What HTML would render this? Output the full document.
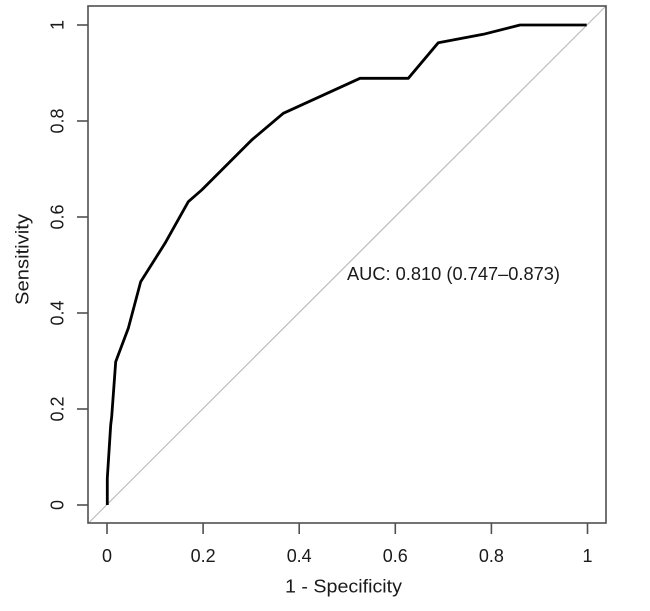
<!DOCTYPE html>
<html><head><meta charset="utf-8"><style>
html,body{margin:0;padding:0;background:#fff;}
svg{display:block;}
text{font-family:"Liberation Sans",Arial,sans-serif;fill:#1a1a1a;font-size:18px;}
</style></head><body>
<svg width="650" height="611" viewBox="0 0 650 611" xmlns="http://www.w3.org/2000/svg">
<rect x="0" y="0" width="650" height="611" fill="#fff"/>
<!-- diagonal -->
<line x1="88" y1="523.5" x2="606" y2="6" stroke="#bdbdbd" stroke-width="1.2"/>
<!-- ROC curve -->
<polyline fill="none" stroke="#000" stroke-width="2.8" stroke-linejoin="round" points="107.3,505 107.3,478.3 110.7,425 111.7,416.7 115.7,361.7 128.3,328.3 140.7,281.7 165,243.3 188.3,201.7 201.7,190 251.7,140 283.3,113.3 360,78.3 408.3,78.3 438.3,42.7 483.3,34.3 520,25 586.7,25"/>
<!-- box -->
<rect x="88" y="6" width="518" height="517" fill="none" stroke="#505050" stroke-width="1.6"/>
<!-- x ticks -->
<g stroke="#505050" stroke-width="1.6">
<line x1="107" y1="523" x2="107" y2="534"/>
<line x1="203.1" y1="523" x2="203.1" y2="534"/>
<line x1="299.2" y1="523" x2="299.2" y2="534"/>
<line x1="395.3" y1="523" x2="395.3" y2="534"/>
<line x1="491.4" y1="523" x2="491.4" y2="534"/>
<line x1="587.5" y1="523" x2="587.5" y2="534"/>
<!-- y ticks -->
<line x1="77" y1="505" x2="88" y2="505"/>
<line x1="77" y1="409" x2="88" y2="409"/>
<line x1="77" y1="313" x2="88" y2="313"/>
<line x1="77" y1="217" x2="88" y2="217"/>
<line x1="77" y1="121" x2="88" y2="121"/>
<line x1="77" y1="25" x2="88" y2="25"/>
</g>
<!-- x tick labels -->
<g text-anchor="middle">
<text x="107" y="562">0</text>
<text x="203.1" y="562" textLength="25" lengthAdjust="spacingAndGlyphs">0.2</text>
<text x="299.2" y="562" textLength="25" lengthAdjust="spacingAndGlyphs">0.4</text>
<text x="395.3" y="562" textLength="25" lengthAdjust="spacingAndGlyphs">0.6</text>
<text x="491.4" y="562" textLength="25" lengthAdjust="spacingAndGlyphs">0.8</text>
<text x="587.5" y="562">1</text>
</g>
<!-- y tick labels -->
<g text-anchor="middle">
<text transform="translate(63.5,505) rotate(-90)">0</text>
<text transform="translate(63.5,409) rotate(-90)" textLength="25" lengthAdjust="spacingAndGlyphs">0.2</text>
<text transform="translate(63.5,313) rotate(-90)" textLength="25" lengthAdjust="spacingAndGlyphs">0.4</text>
<text transform="translate(63.5,217) rotate(-90)" textLength="25" lengthAdjust="spacingAndGlyphs">0.6</text>
<text transform="translate(63.5,121) rotate(-90)" textLength="25" lengthAdjust="spacingAndGlyphs">0.8</text>
<text transform="translate(63.5,25) rotate(-90)">1</text>
</g>
<!-- axis labels -->
<text x="285" y="592.5" textLength="117" lengthAdjust="spacingAndGlyphs">1 - Specificity</text>
<text transform="translate(28.5,259.5) rotate(-90)" text-anchor="middle" textLength="91" lengthAdjust="spacingAndGlyphs">Sensitivity</text>
<!-- AUC -->
<text x="347" y="280" textLength="213" lengthAdjust="spacingAndGlyphs">AUC: 0.810 (0.747–0.873)</text>
</svg>
</body></html>
